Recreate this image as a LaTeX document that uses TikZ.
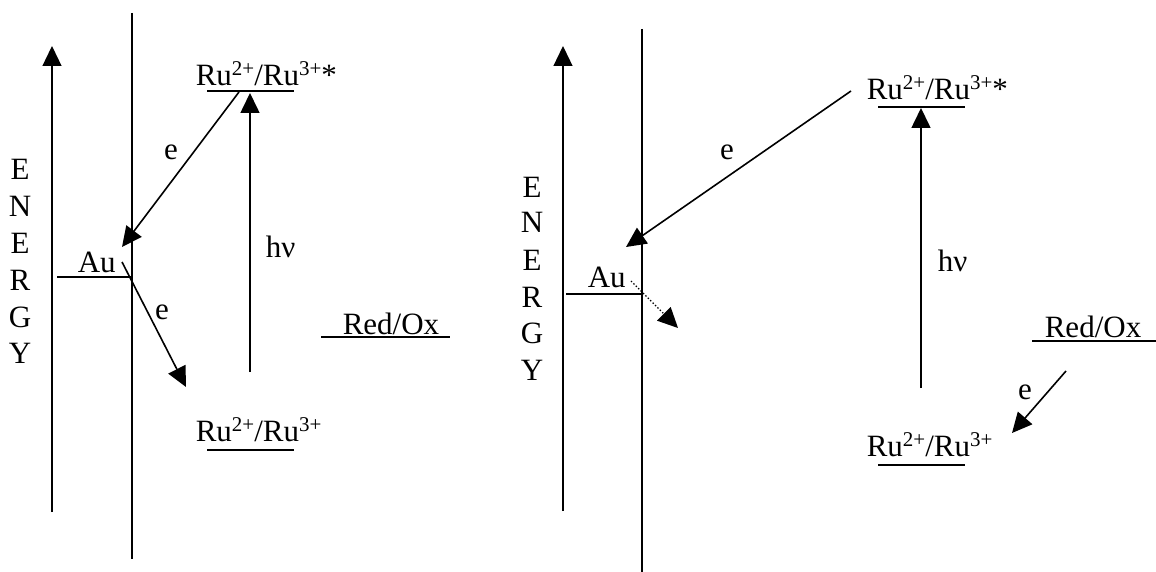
\documentclass[tikz,border=0pt]{standalone}
\usepackage{fontspec}
\setmainfont{Liberation Serif}
\usetikzlibrary{arrows.meta}
\newcommand{\supx}[1]{\raisebox{10pt}{\fontsize{21}{21}\selectfont #1}}
\begin{document}
\begin{tikzpicture}[x=1pt,y=-1pt,line width=1.6pt,
  lbl/.style={inner sep=0pt,font=\fontsize{31}{36}\selectfont},
  arr/.style={-{Triangle[length=20pt,width=19pt]}},
  axisline/.style={line width=1.3pt},
  lvl/.style={line width=1.6pt}]
\useasboundingbox (0,0) rectangle (1156,572);

% ================= LEFT PANEL =================
\coordinate (La0) at (52,512);
\coordinate (La1) at (52,46);
\draw[axisline,arr] (La0) -- (La1);
\foreach \l/\y [count=\i] in {E/180,N/216,E/253,R/290,G/327,Y/363}
  \node[lbl,anchor=base] (Len\i) at (20,\y) {\l};

\coordinate (Lv0) at (132,13);
\coordinate (Lv1) at (132,559);
\draw (Lv0) -- (Lv1);

\coordinate (LAu0) at (57,277);
\coordinate (LAu1) at (132,277);
\draw[lvl] (LAu0) -- (LAu1);
\node[lbl,anchor=base west] (LAu) at (77,272) {Au};

\node[lbl,anchor=base west] (LRuS) at (195,86) {Ru\supx{2+}/Ru\supx{3+}*};
\coordinate (LRuS0) at (207,91);
\coordinate (LRuS1) at (294,91);
\draw[lvl] (LRuS0) -- (LRuS1);

\node[lbl,anchor=base west] (LRu) at (195,441) {Ru\supx{2+}/Ru\supx{3+}};
\coordinate (LRu0) at (207,450);
\coordinate (LRu1) at (294,450);
\draw[lvl] (LRu0) -- (LRu1);

\node[lbl,anchor=base west] (LRed) at (342,334) {Red/Ox};
\coordinate (LRed0) at (321,337);
\coordinate (LRed1) at (450,337);
\draw[lvl] (LRed0) -- (LRed1);

\coordinate (Le1s) at (239,92);
\coordinate (Le1t) at (122,247);
\draw[arr] (Le1s) -- (Le1t);
\node[lbl] (Le1) at (171,152) {e};

\coordinate (Lhs) at (250,372);
\coordinate (Lht) at (250,93);
\draw[arr] (Lhs) -- (Lht);
\node[lbl,anchor=base west] (Lhv) at (265,257) {hν};

\coordinate (Le2s) at (122,262);
\coordinate (Le2t) at (186,387);
\draw[arr] (Le2s) -- (Le2t);
\node[lbl] (Le2) at (162,312) {e};

% ================= RIGHT PANEL =================
\coordinate (Ra0) at (563,511);
\coordinate (Ra1) at (563,46);
\draw[axisline,arr] (Ra0) -- (Ra1);
\foreach \l/\y [count=\i] in {E/197,N/233,E/270,R/307,G/343,Y/380}
  \node[lbl,anchor=base] (Ren\i) at (532,\y) {\l};

\coordinate (Rv0) at (642,29);
\coordinate (Rv1) at (642,572);
\draw (Rv0) -- (Rv1);

\coordinate (RAu0) at (566,294);
\coordinate (RAu1) at (642,294);
\draw[lvl] (RAu0) -- (RAu1);
\node[lbl,anchor=base west] (RAu) at (587,287) {Au};

\node[lbl,anchor=base west] (RRuS) at (866,100) {Ru\supx{2+}/Ru\supx{3+}*};
\coordinate (RRuS0) at (878,107);
\coordinate (RRuS1) at (965,107);
\draw[lvl] (RRuS0) -- (RRuS1);

\node[lbl,anchor=base west] (RRu) at (866,456) {Ru\supx{2+}/Ru\supx{3+}};
\coordinate (RRu0) at (878,465);
\coordinate (RRu1) at (965,465);
\draw[lvl] (RRu0) -- (RRu1);

\node[lbl,anchor=base west] (RRed) at (1044,337) {Red/Ox};
\coordinate (RRed0) at (1032,341);
\coordinate (RRed1) at (1156,341);
\draw[lvl] (RRed0) -- (RRed1);

\coordinate (Re1s) at (851,91);
\coordinate (Re1t) at (626,247);
\draw[arr] (Re1s) -- (Re1t);
\node[lbl] (Re1) at (727,152) {e};

\coordinate (Rds) at (631,281);
\coordinate (Rdt) at (678,328);
\draw[arr,dotted,line width=1.4pt] (Rds) -- (Rdt);

\coordinate (Rhs) at (921,388);
\coordinate (Rht) at (921,108);
\draw[arr] (Rhs) -- (Rht);
\node[lbl,anchor=base west] (Rhv) at (937,271) {hν};

\coordinate (Re2s) at (1066,371);
\coordinate (Re2t) at (1012,433);
\draw[arr] (Re2s) -- (Re2t);
\node[lbl] (Re2) at (1025,392) {e};
\end{tikzpicture}
\end{document}
